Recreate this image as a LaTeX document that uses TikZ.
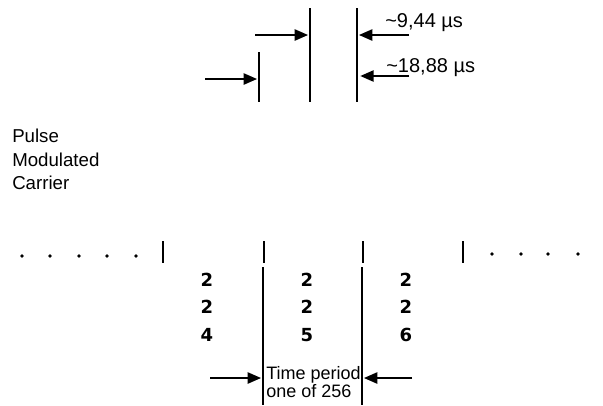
\documentclass[tikz,border=0pt]{standalone}
\usepackage{fontspec}
\setmainfont{Liberation Sans}
\newfontfamily\digitfont{DejaVu Sans}
\usetikzlibrary{arrows.meta}

\tikzset{
    rule/.style={line width=0.9pt},
    slotline/.style={line width=1.5pt},
    pointer/.style={-{Triangle[length=10pt,width=8.5pt]},line width=1.1pt,shorten >=1.5pt},
    digit/.style={font=\digitfont\fontsize{13.5}{13.5}\selectfont\bfseries,inner sep=0pt,anchor=base},
    label/.style={font=\fontsize{15}{15}\selectfont,inner sep=0pt,anchor=base west},
}

\begin{document}
\begin{tikzpicture}[x=0.75pt,y=-0.75pt]
            \useasboundingbox (0,0) rectangle (603,405);

            \coordinate (wideL) at (259,52);
            \coordinate (narrowL) at (310,8);
            \coordinate (narrowR) at (357,8);
            \draw[rule] (wideL)--(259,102);
            \draw[rule] (narrowL)--(310,102);
            \draw[rule,line width=1.1pt] (narrowR)--(357,102);

            \coordinate (fromA) at (255,35);
            \coordinate (fromB) at (409,35);
            \coordinate (fromC) at (205,79);
            \coordinate (fromD) at (409,76);
            \draw[pointer] (fromA)--(fromA -| narrowL);
            \draw[pointer] (fromB)--(fromB -| narrowR);
            \draw[pointer] (fromC)--(fromC -| wideL);
            \draw[pointer,shorten >=2.5pt] (fromD)--(fromD -| narrowR);
            \node[label] (narrow) at (385,27) {\textasciitilde 9,44 µs};
            \node[label] (wide) at (386,72) {\textasciitilde 18,88 µs};

            \node[anchor=north west,align=left,inner sep=0pt,font=\fontsize{14}{17.5}\selectfont] (carrier) at (12,129) {Pulse\\Modulated\\Carrier};

            \foreach \x in {22,50,79,107,136}{
                \fill (\x,256) circle (1.9);
            }
            \foreach \x in {492,521,548,578}{
                \fill (\x,254) circle (1.9);
            }
            \foreach \x in {163,264,363,463}{
                \draw[slotline] (\x,241)--(\x,263);
            }

            \coordinate (slotL) at (263,267);
            \coordinate (slotR) at (362,267);
            \draw[rule] (slotL)--(263,405);
            \draw[rule] (slotR)--(362,405);

            \foreach \n/\x in {4/207,5/307,6/406}{
                \node[digit] (top\n) at (\x,286) {2};
                \node[digit] (mid\n) at (\x,313) {2};
                \node[digit] (low\n) at (\x,341.7) {\n};
            }

            \coordinate (fromE) at (210,378);
            \coordinate (fromF) at (412,378);
            \draw[pointer] (fromE)--(fromE -| slotL);
            \draw[pointer] (fromF)--(fromF -| slotR);
            \node[anchor=north west,align=left,inner sep=0pt,font=\fontsize{13.5}{13.5}\selectfont] (period) at (266,366) {Time period\\one of 256};
\end{tikzpicture}
\end{document}
